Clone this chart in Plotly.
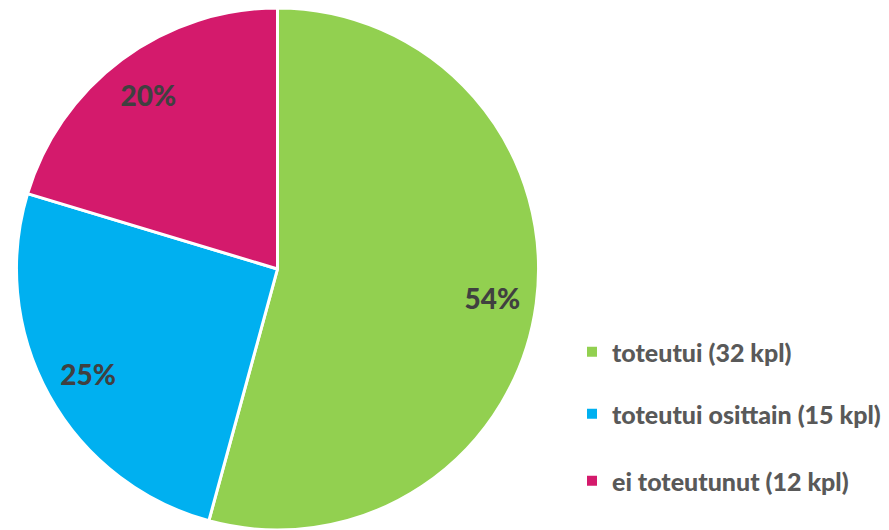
import plotly.graph_objects as go

# Toteutumisen jakauma
categories = ["toteutui (32 kpl)", "toteutui osittain (15 kpl)", "ei toteutunut (12 kpl)"]
counts = [32, 15, 12]
colors = ["#92D050", "#00B0F0", "#D41A6C"]

W, H = 889, 530
label_color = "#404040"
legend_color = "#595959"
pie_domain = dict(x=[15 / W, 540 / W], y=[0, 0.985])

fig = go.Figure()

# Filled pie slices
fig.add_trace(go.Pie(
    labels=categories,
    values=counts,
    sort=False,
    direction="clockwise",
    rotation=0,
    marker=dict(colors=colors, line=dict(color="white", width=3)),
    textinfo="none",
    showlegend=False,
    hoverinfo="label+value+percent",
    domain=pie_domain,
))

# Transparent ring on top carrying the percentage labels near the rim
fig.add_trace(go.Pie(
    labels=categories,
    values=counts,
    sort=False,
    direction="clockwise",
    rotation=0,
    hole=0.66,
    marker=dict(colors=["rgba(0,0,0,0)"] * len(counts), line=dict(width=0)),
    texttemplate="%{percent:.0%}",
    textposition="inside",
    insidetextorientation="horizontal",
    textfont=dict(family="Lato", size=28, color=label_color, weight=900),
    showlegend=False,
    hoverinfo="skip",
    domain=pie_domain,
))

# Legend entries, one legend per category so each can sit at its own height
legend_ids = ["legend", "legend2", "legend3"]
legend_y = [352, 414, 481]
for name, col, lid in zip(categories, colors, legend_ids):
    fig.add_trace(go.Scatter(
        x=[None], y=[None], mode="markers", name=name,
        marker=dict(symbol="square", size=10, color=col),
        legend=lid, showlegend=True, hoverinfo="skip",
    ))

legend_common = dict(
    font=dict(family="Lato", size=25, color=legend_color, weight=900),
    bgcolor="rgba(0,0,0,0)",
    xanchor="left", yanchor="middle",
    x=(612 - 40) / W,
    borderwidth=0,
)
layout_legends = {}
for lid, yy in zip(legend_ids, legend_y):
    layout_legends[lid] = dict(legend_common, y=1 - yy / H)

fig.update_layout(
    width=W, height=H,
    margin=dict(l=0, r=0, t=0, b=0),
    paper_bgcolor="white",
    plot_bgcolor="white",
    xaxis=dict(visible=False),
    yaxis=dict(visible=False),
    **layout_legends,
)

fig.write_html("out.html")
